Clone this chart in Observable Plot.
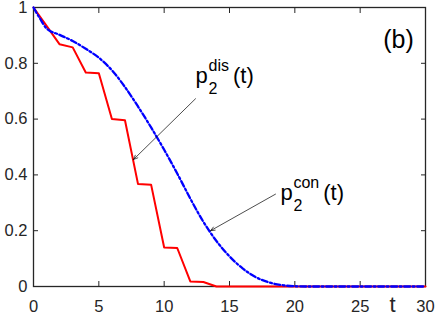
<!DOCTYPE html>
<html><head><meta charset="utf-8">
<script src="https://cdn.jsdelivr.net/npm/d3@7"></script>
<script src="https://cdn.jsdelivr.net/npm/@observablehq/plot@0.6"></script>
<style>body{margin:0;background:#fff}</style>
</head><body><div id="chart"></div>
<script>
// discrete model p2^dis(t)
const tDis = [0,1,2,3,4,5,6,7,8,9,10,11,12,13,14,15,16,17,18,19,20,21,22,23,24,25,26,27,28,29,30];
const pDis = [1,0.934,0.868,0.857,0.767,0.764,0.6,0.596,0.367,0.365,0.14,0.138,0.018,0.016,0,0,0,0,0,0,0,0,0,0,0,0,0,0,0,0,0];
// continuous model p2^con(t)
const tCon = [0,0.5,1,2,3,4,5,6,7,8,9,10,11,12,13,14,15,16,17,18,19,20,21,22,23,24,25,26,27,28,29,30];
const pCon = [1,0.96,0.925,0.902,0.88,0.852,0.82,0.775,0.715,0.645,0.57,0.49,0.405,0.315,0.232,0.163,0.108,0.065,0.034,0.015,0.005,0.001,0,0,0,0,0,0,0,0,0,0];
const xTicks = [0,5,10,15,20,25,30];
const yTicks = [0,0.2,0.4,0.6,0.8,1];
// annotations
const annSup = ["dis","con"];
const annT = [12.4, 18.9];
const annV = [0.73, 0.309];
const arrT1 = [12.4, 18.52];
const arrV1 = [0.673, 0.331];
const arrT2 = [7.65, 13.55];
const arrV2 = [0.455, 0.2];
const panelLabel = "(b)";
const xLabel = "t";

const FONT = "'Liberation Sans', Arial, Helvetica, sans-serif";
const ctx = document.createElement("canvas").getContext("2d");
ctx.font = "16px " + FONT;
const supW = annSup.map(s => ctx.measureText(s).width);

const dis = tDis.map((t,i)=>({t, p:pDis[i]}));
const con = tCon.map((t,i)=>({t, p:pCon[i]}));
const ann = annSup.map((s,i)=>({s, t:annT[i], v:annV[i], w:supW[i]}));
const arr = annSup.map((s,i)=>({x1:arrT1[i], y1:arrV1[i], x2:arrT2[i], y2:arrV2[i]}));

const ink = "#262626";
const chart = Plot.plot({
  width: 436, height: 316,
  marginLeft: 33, marginRight: 11, marginTop: 7, marginBottom: 30,
  style: {fontFamily: FONT, fontSize: "16.5px", color: ink, background: "#fff"},
  x: {domain: [0,30]},
  y: {domain: [0,1]},
  marks: [
    Plot.axisX(xTicks, {anchor: "bottom", tickSize: -5, tickPadding: 19, label: null, tickFormat: d => String(d)}),
    Plot.axisX(xTicks, {anchor: "top", tickSize: -5, label: null, tickFormat: () => ""}),
    Plot.axisY(yTicks, {anchor: "left", tickSize: -5, tickPadding: 11, label: null, tickFormat: d => String(+d.toFixed(1))}),
    Plot.axisY(yTicks, {anchor: "right", tickSize: -5, label: null, tickFormat: () => ""}),
    Plot.frame({stroke: ink, strokeWidth: 1.3}),
    Plot.line(dis, {x: "t", y: "p", stroke: "#ff0000", strokeWidth: 2}),
    Plot.line(con, {x: "t", y: "p", stroke: "#0000ff", strokeWidth: 2.3, curve: "monotone-x", strokeDasharray: "6,2.5,2,2.5"}),
    Plot.arrow(arr, {x1: "x1", y1: "y1", x2: "x2", y2: "y2", stroke: "#000", strokeWidth: 0.7, headLength: 10, headAngle: 45}),
    Plot.text(ann, {x: "t", y: "v", text: () => "p", fontSize: 22, textAnchor: "start", lineAnchor: "bottom", fill: "#000"}),
    Plot.text(ann, {x: "t", y: "v", text: () => "2", fontSize: 16, textAnchor: "start", lineAnchor: "bottom", dx: 13, dy: 11, fill: "#000"}),
    Plot.text(ann, {x: "t", y: "v", text: "s", fontSize: 16, textAnchor: "start", lineAnchor: "bottom", dx: 13, dy: -12, fill: "#000"}),
    ...ann.map(a => Plot.text([a], {x: "t", y: "v", text: () => "(t)", fontSize: 22, textAnchor: "start", lineAnchor: "bottom", dx: 13 + a.w + 4, fill: "#000"})),
    Plot.text([panelLabel], {x: 27.93, y: 0.854, text: d => d, fontSize: 25, textAnchor: "middle", lineAnchor: "bottom", fill: "#000"}),
    Plot.text([xLabel], {x: 27.47, y: -0.0925, text: d => d, fontSize: 22, textAnchor: "middle", lineAnchor: "bottom", fill: ink})
  ]
});
document.getElementById("chart").append(chart);
</script>
</body></html>
